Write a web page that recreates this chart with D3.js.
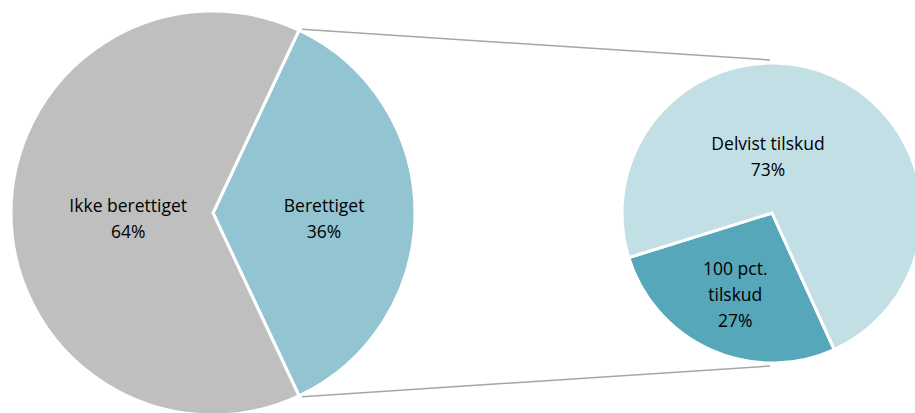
<!DOCTYPE html>
<html>
<head>
<meta charset="utf-8">
<script src="https://cdn.jsdelivr.net/npm/d3@7"></script>
<style>
  body { margin: 0; background: #fff; }
  svg { display: block; }
</style>
</head>
<body>
<div id="chart"></div>
<script>
// main pie
const mainLabels = ['Berettiget', 'Ikke berettiget'];
const mainValues = [36, 64];
const mainColors = ['#92c4d2', '#bfbfbf'];

// secondary pie (split of "Berettiget")
const subLabels = [['100 pct.', 'tilskud'], ['Delvist tilskud']];
const subValues = [27, 73];
const subColors = ['#57a7ba', '#c3dfe6'];

let width = 915;
let height = 413;

let svg = d3.select('#chart')
    .append('svg')
    .attr('width', width)
    .attr('height', height);

let c1 = { x: 213, y: 213, r: 202 };
let c2 = { x: 772, y: 213, r: 150 };

// berettiget slice is centred on the right side (3 o'clock)
let share = mainValues[0] / d3.sum(mainValues);
let start1 = Math.PI / 2 - share * Math.PI;

let pie1 = d3.pie().sort(null).value(d => d)
    .startAngle(start1)
    .endAngle(start1 + 2 * Math.PI);
let arcs1 = pie1(mainValues);

let arc1 = d3.arc().innerRadius(0).outerRadius(c1.r);

let start2 = 155.5 * Math.PI / 180;
let pie2 = d3.pie().sort(null).value(d => d)
    .startAngle(start2)
    .endAngle(start2 + 2 * Math.PI);
let arcs2 = pie2(subValues);
let arc2 = d3.arc().innerRadius(0).outerRadius(c2.r);

// connector lines
let a0 = arcs1[0].startAngle, a1 = arcs1[0].endAngle;
let pTop = [c1.x + c1.r * Math.sin(a0) + 3, c1.y - c1.r * Math.cos(a0) - 1];
let pBot = [c1.x + c1.r * Math.sin(a1) + 3, c1.y - c1.r * Math.cos(a1) + 1];
let conn = [
    [pTop, [c2.x - 2, c2.y - c2.r - 3]],
    [pBot, [c2.x - 2, c2.y + c2.r + 3]]
];
svg.selectAll('line.conn')
    .data(conn)
    .enter()
    .append('line')
    .attr('class', 'conn')
    .attr('x1', d => d[0][0])
    .attr('y1', d => d[0][1])
    .attr('x2', d => d[1][0])
    .attr('y2', d => d[1][1])
    .attr('stroke', '#a6a6a6')
    .attr('stroke-width', 1.5);

let g1 = svg.append('g')
    .attr('transform', `translate(${c1.x},${c1.y})`);

g1.selectAll('path')
    .data(arcs1)
    .enter()
    .append('path')
    .attr('d', arc1)
    .attr('fill', (d, i) => mainColors[i])
    .attr('stroke', '#fff')
    .attr('stroke-width', 3)
    .attr('stroke-linejoin', 'miter');

let g2 = svg.append('g')
    .attr('transform', `translate(${c2.x},${c2.y})`);

g2.selectAll('path')
    .data(arcs2)
    .enter()
    .append('path')
    .attr('d', arc2)
    .attr('fill', (d, i) => subColors[i])
    .attr('stroke', '#fff')
    .attr('stroke-width', 3)
    .attr('stroke-linejoin', 'miter');

// labels
let lineH = 26;
let fontSize = 17.5;

function addLabel(g, arcData, rad, lines, dx, dy) {
    let a = (arcData.startAngle + arcData.endAngle) / 2;
    let x = rad * Math.sin(a) + dx;
    let y = -rad * Math.cos(a) + dy;
    let n = lines.length;
    let t = g.append('text')
        .attr('text-anchor', 'middle')
        .attr('font-family', 'Open Sans, sans-serif')
        .attr('font-size', fontSize + 'px')
        .attr('fill', '#000');
    lines.forEach((s, i) => {
        t.append('tspan')
            .attr('x', x)
            .attr('y', y + (i - (n - 1) / 2) * lineH + fontSize * 0.35)
            .text(s);
    });
}

let pct = (v, vals) => Math.round(100 * v / d3.sum(vals)) + '%';

addLabel(g1, arcs1[0], c1.r * 0.55, [mainLabels[0], pct(mainValues[0], mainValues)], 0, 6);
addLabel(g1, arcs1[1], c1.r * 0.42, [mainLabels[1], pct(mainValues[1], mainValues)], 0, 6);

addLabel(g2, arcs2[0], c2.r * 0.6, subLabels[0].concat([pct(subValues[0], subValues)]), 0, 0);
addLabel(g2, arcs2[1], 0, subLabels[1].concat([pct(subValues[1], subValues)]), -4, -56);
</script>
</body>
</html>
